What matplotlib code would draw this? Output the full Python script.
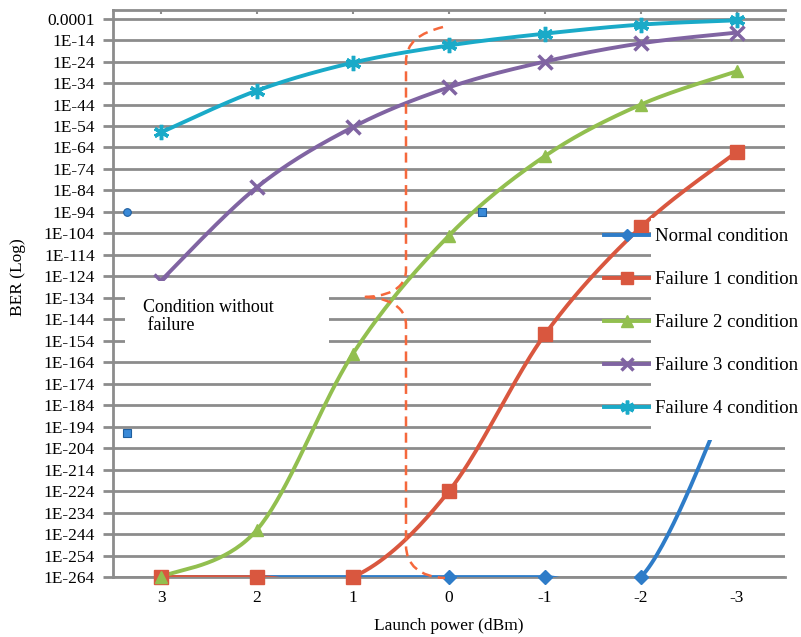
import numpy as np
import matplotlib
matplotlib.use("Agg")
import matplotlib.pyplot as plt
from matplotlib.path import Path
from matplotlib.patches import PathPatch, Rectangle

# ----------------- Données (exposant log10 du BER) ----------------- #
powers = ["3", "2", "1", "0", "-1", "-2", "-3"]

normal = [-264, -264, -264, -264, -264, -264, -170]
failure1 = [-264, -264, -264, -224, -151, -101, -66]
failure2 = [-264, -242, -160, -105, -68, -44, -28.5]
failure3 = [-126, -82.5, -54.5, -36, -24, -15.5, -10.5]
failure4 = [-57, -37.5, -24.5, -16.5, -11, -6.8, -4.8]

series_names = ["Normal condition", "Failure 1 condition", "Failure 2 condition",
                "Failure 3 condition", "Failure 4 condition"]
colors = ["#2E7CC8", "#D9573F", "#92BF4F", "#8064A2", "#1AAAC8"]
markers = ["D", "s", "^", "x", (6, 2, 0)]
msizes = [7, 10, 9, 10, 11]

y_ticks = list(range(-4, -265, -10))
y_labels = ["0.0001"] + [f"1E{t}" for t in y_ticks[1:]]

# petits artefacts bleus visibles dans l'image
stray_x = [-0.35, 3.34, -0.35]
stray_y = [-94, -94, -197]
stray_m = ["o", "s", "s"]

plt.rcParams["font.family"] = ["Liberation Serif", "DejaVu Serif"]


def smooth(x, y, n=40):
    # lissage type Excel (Bezier / Catmull-Rom)
    pts = np.column_stack([x, y]).astype(float)
    P = np.vstack([pts[0], pts, pts[-1]])
    t = np.linspace(0, 1, n)[:, None]
    out = []
    for i in range(len(pts) - 1):
        p0, p1, p2, p3 = P[i], P[i + 1], P[i + 2], P[i + 3]
        c1 = p1 + (p2 - p0) / 6
        c2 = p2 - (p3 - p1) / 6
        seg = (1 - t) ** 3 * p1 + 3 * (1 - t) ** 2 * t * c1 + 3 * (1 - t) * t ** 2 * c2 + t ** 3 * p2
        out.append(seg)
    out = np.vstack(out)
    return out[:, 0], out[:, 1]


fig = plt.figure(figsize=(8.01, 6.37), dpi=100)
W, H = 801, 637
ax = fig.add_axes([113 / W, 1 - 577 / H, 672 / W, 567 / H])

x = np.arange(len(powers))
handles = []
for vals, name, c, m, ms in zip([normal, failure1, failure2, failure3, failure4],
                                 series_names, colors, markers, msizes):
    sx, sy = smooth(x, vals)
    ax.plot(sx, sy, color=c, lw=2.8, zorder=3, solid_capstyle="butt")
    h, = ax.plot(x, vals, linestyle="none", marker=m, ms=ms, color=c, mec=c,
                 mew=2.5 if m in ("x", (6, 2, 0)) else 1, clip_on=False, zorder=4)
    handles.append((h, c, m, ms))

for sx_, sy_, m in zip(stray_x, stray_y, stray_m):
    ax.plot(sx_, sy_, marker=m, ms=5.5, color="#3A8AD8", mec="#1F5E9E", mew=0.8,
            linestyle="none", clip_on=False, zorder=4)

ax.set_xlim(-0.5, len(powers) - 0.5)
ax.set_ylim(-264, 0)
ax.set_yticks(y_ticks)
ax.set_yticklabels(y_labels)
ax.set_xticks(x)
ax.set_xticklabels(powers)
ax.yaxis.grid(True, color="#8C8C8C", lw=2)
ax.set_axisbelow(True)

for s in ["left", "top", "bottom"]:
    ax.spines[s].set_color("#8C8C8C")
    ax.spines[s].set_linewidth(2)
ax.spines["right"].set_visible(False)
ax.tick_params(axis="y", length=7, width=2, color="#8C8C8C", pad=6, labelsize=12.5)
ax.tick_params(axis="x", bottom=False, top=True, direction="in", length=3, width=1.5,
               color="#8C8C8C", pad=9, labelsize=12.5)

ax.set_xlabel("Launch power (dBm)", fontsize=12.5, labelpad=9)
fig.text(18 / W, 1 - 277 / H, "BER (Log)", rotation=90, ha="center", va="center", fontsize=12.5)


def px(xp, yp):
    return ((xp - 113) / 672, (577 - yp) / 567)


# boîte "Condition without failure"
ax.add_patch(Rectangle(px(125, 352), 204 / 672, 71 / 567, transform=ax.transAxes,
                       facecolor="white", edgecolor="none", zorder=5, clip_on=False))
ax.text(*px(143, 299), "Condition without\n failure", transform=ax.transAxes,
        ha="left", va="top", fontsize=13, linespacing=1.05, zorder=6)

# accolade en pointillés
verts = [(443, 27), (420, 33), (406, 42), (406, 62), (406, 270),
         (406, 290), (385, 297), (362, 297),
         (385, 297), (406, 305), (406, 325), (406, 545),
         (406, 565), (420, 577), (445, 578)]
codes = [Path.MOVETO, Path.CURVE4, Path.CURVE4, Path.CURVE4, Path.LINETO,
         Path.CURVE4, Path.CURVE4, Path.CURVE4,
         Path.CURVE4, Path.CURVE4, Path.CURVE4, Path.LINETO,
         Path.CURVE4, Path.CURVE4, Path.CURVE4]
brace = Path([px(*v) for v in verts], codes)
ax.add_patch(PathPatch(brace, transform=ax.transAxes, facecolor="none", edgecolor="#F5683C",
                       lw=1.8, linestyle=(0, (4, 2.5)), zorder=4, clip_on=False))

# légende avec fond blanc
ax.add_patch(Rectangle(px(651, 440), 150 / 672, 222 / 567, transform=ax.transAxes,
                       facecolor="white", edgecolor="none", zorder=5, clip_on=False))
leg_handles = [plt.Line2D([], [], color=c, lw=2.8, marker=m, ms=ms * 0.9, mec=c,
                          mew=2.5 if m in ("x", (6, 2, 0)) else 1)
               for (_, c, m, ms) in handles]
leg = ax.legend(leg_handles, series_names, loc="upper left",
                bbox_to_anchor=(604 / W, 1 - 228 / H), bbox_transform=fig.transFigure,
                frameon=False, fontsize=13.5, handlelength=2.4, handletextpad=0.3,
                labelspacing=1.38, borderpad=0, borderaxespad=0)
leg.set_zorder(6)

fig.savefig("out.png", dpi=100)
